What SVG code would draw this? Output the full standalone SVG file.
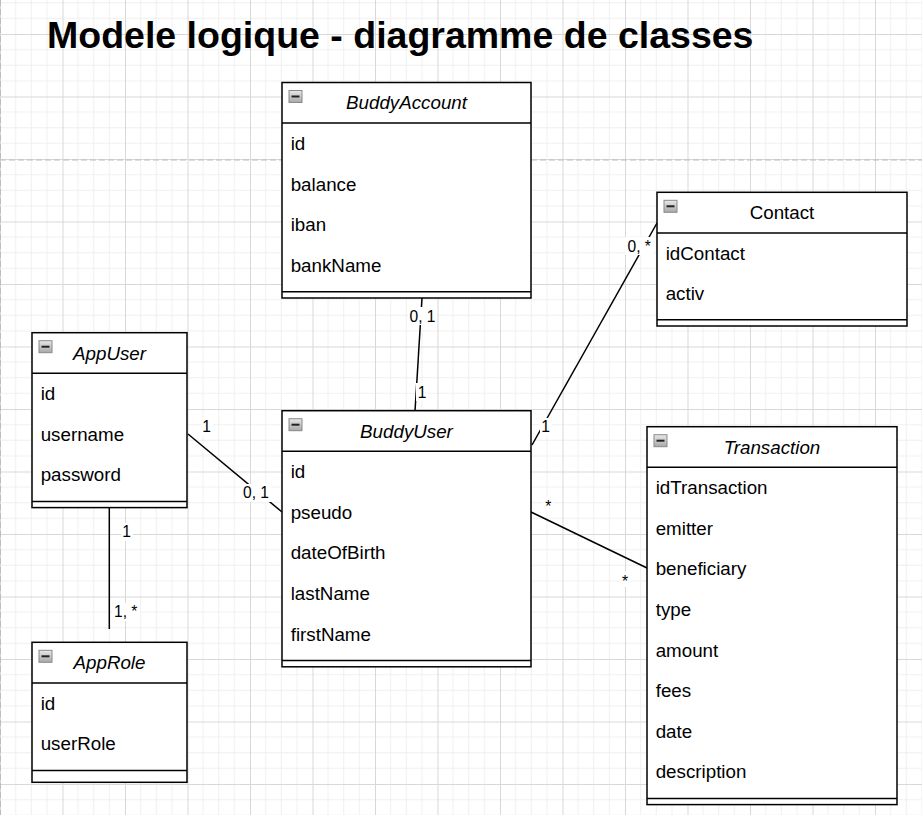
<svg xmlns="http://www.w3.org/2000/svg" width="922" height="815" viewBox="0 0 922 815">
<style>
.frame{fill:#fff;stroke:#000;stroke-width:1.5}
.sep{stroke:#000;stroke-width:1.5;fill:none}
.hdr{font-family:"Liberation Sans",Arial,sans-serif;font-size:18.75px;fill:#000;text-anchor:middle}
.it{font-style:italic}
.row{font-family:"Liberation Sans",Arial,sans-serif;font-size:18.75px;fill:#000}
.lbl{font-family:"Liberation Sans",Arial,sans-serif;font-size:15.6px;fill:#000;text-anchor:middle}
.lbg{fill:#fff}
.edge{stroke:#000;stroke-width:1.5;fill:none}
</style>
<defs>
<pattern id="grid" width="62.5" height="62.5" patternUnits="userSpaceOnUse" x="0" y="34">
<path d="M15.625 0V62.5M31.25 0V62.5M46.875 0V62.5M0 15.625H62.5M0 31.25H62.5M0 46.875H62.5" stroke="#efefef" stroke-width="1"/>
<path d="M0.5 0V62.5M0 0.5H62.5" stroke="#d8d8d8" stroke-width="1"/>
</pattern>
<linearGradient id="ig" x1="0" y1="0" x2="0" y2="1">
<stop offset="0" stop-color="#e8e8e8"/>
<stop offset="1" stop-color="#a8a8a8"/>
</linearGradient>
<g id="icon">
<rect x="0.5" y="0.5" width="13" height="12" fill="url(#ig)" stroke="#8a8a8a" stroke-width="1"/>
<path d="M3 6.5H11" stroke="#222" stroke-width="2"/>
</g>
</defs>
<rect width="922" height="815" fill="#fff"/>
<rect width="922" height="815" fill="url(#grid)"/>
<path d="M0 160H922" stroke="#bdbdbd" stroke-width="1" stroke-dasharray="6 3"/>
<path d="M0.5 0V815" stroke="#bdbdbd" stroke-width="1" stroke-dasharray="6 3"/>
<text x="47" y="48" font-family="Liberation Sans,Arial,sans-serif" font-size="37.5" font-weight="bold" fill="#000">Modele logique - diagramme de classes</text>

<g id="connectors">
<path class="edge" d="M422 298L415 411"/>
<path class="edge" d="M188 434L282 512"/>
<path class="edge" d="M109.3 508V629"/>
<path class="edge" d="M532 445L657 223"/>
<path class="edge" d="M531 512L647 568"/>
<rect class="lbg" x="408" y="307" width="29" height="18"/><text class="lbl" x="422.5" y="321.6">0, 1</text>
<rect class="lbg" x="416" y="383" width="12" height="18"/><text class="lbl" x="422" y="397.6">1</text>
<rect class="lbg" x="201" y="418" width="12" height="18"/><text class="lbl" x="206.7" y="432.3">1</text>
<rect class="lbg" x="241" y="484" width="30" height="18"/><text class="lbl" x="256" y="498.3">0, 1</text>
<rect class="lbg" x="121" y="523" width="12" height="18"/><text class="lbl" x="126.7" y="537.3">1</text>
<rect class="lbg" x="112" y="603" width="28" height="18"/><text class="lbl" x="125.7" y="617.3">1, *</text>
<rect class="lbg" x="625" y="237" width="29" height="18"/><text class="lbl" x="639.2" y="251.5">0, *</text>
<rect class="lbg" x="540" y="418" width="12" height="18"/><text class="lbl" x="545.5" y="431.7">1</text>
<rect class="lbg" x="543" y="496" width="11" height="16"/><text class="lbl" x="548.3" y="512">*</text>
<rect class="lbg" x="620" y="571" width="11" height="16"/><text class="lbl" x="625" y="587">*</text>
</g>

<g id="BuddyAccount">
<rect class="frame" x="282" y="82.5" width="249" height="215.5"/>
<path class="sep" d="M282 123.1H531M282 291.8H531"/>
<use href="#icon" x="288.5" y="90"/>
<text class="hdr it" x="406.5" y="109.3">BuddyAccount</text>
<text class="row" x="290.7" y="150">id</text>
<text class="row" x="290.7" y="190.5">balance</text>
<text class="row" x="290.7" y="231">iban</text>
<text class="row" x="290.7" y="271.7">bankName</text>
</g>

<g id="Contact">
<rect class="frame" x="657" y="192.3" width="250" height="133.7"/>
<path class="sep" d="M657 232.9H907M657 319.8H907"/>
<use href="#icon" x="663.5" y="199.8"/>
<text class="hdr" x="782" y="219.1">Contact</text>
<text class="row" x="665.7" y="259.7">idContact</text>
<text class="row" x="665.7" y="300.3">activ</text>
</g>

<g id="AppUser">
<rect class="frame" x="32" y="332.7" width="155" height="174.9"/>
<path class="sep" d="M32 373.3H187M32 501.4H187"/>
<use href="#icon" x="38.5" y="340.2"/>
<text class="hdr it" x="109.5" y="359.5">AppUser</text>
<text class="row" x="40.7" y="400.1">id</text>
<text class="row" x="40.7" y="440.7">username</text>
<text class="row" x="40.7" y="481.3">password</text>
</g>

<g id="BuddyUser">
<rect class="frame" x="282" y="410.7" width="249" height="256.1"/>
<path class="sep" d="M282 451.3H531M282 660.6H531"/>
<use href="#icon" x="288.5" y="418.2"/>
<text class="hdr it" x="406.5" y="437.5">BuddyUser</text>
<text class="row" x="290.7" y="478.1">id</text>
<text class="row" x="290.7" y="518.7">pseudo</text>
<text class="row" x="290.7" y="559.3">dateOfBirth</text>
<text class="row" x="290.7" y="599.9">lastName</text>
<text class="row" x="290.7" y="640.5">firstName</text>
</g>

<g id="AppRole">
<rect class="frame" x="32" y="642.3" width="155" height="140"/>
<path class="sep" d="M32 682.9H187M32 770.4H187"/>
<use href="#icon" x="38.5" y="649.8"/>
<text class="hdr it" x="109.5" y="669.1">AppRole</text>
<text class="row" x="40.7" y="709.7">id</text>
<text class="row" x="40.7" y="750.3">userRole</text>
</g>

<g id="Transaction">
<rect class="frame" x="647" y="426.7" width="250" height="377.9"/>
<path class="sep" d="M647 467.3H897M647 798.4H897"/>
<use href="#icon" x="653.5" y="434.2"/>
<text class="hdr it" x="772" y="453.5">Transaction</text>
<text class="row" x="655.7" y="494.1">idTransaction</text>
<text class="row" x="655.7" y="534.7">emitter</text>
<text class="row" x="655.7" y="575.3">beneficiary</text>
<text class="row" x="655.7" y="615.9">type</text>
<text class="row" x="655.7" y="656.5">amount</text>
<text class="row" x="655.7" y="697.1">fees</text>
<text class="row" x="655.7" y="737.7">date</text>
<text class="row" x="655.7" y="778.3">description</text>
</g>
</svg>
